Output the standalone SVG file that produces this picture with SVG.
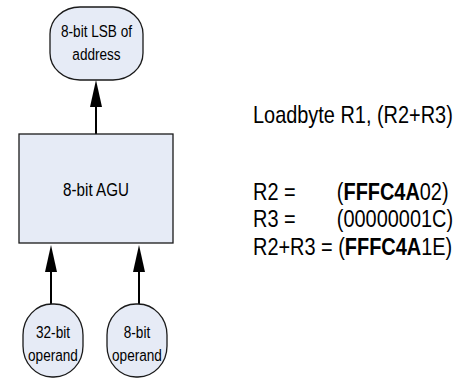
<svg xmlns="http://www.w3.org/2000/svg" width="461" height="379" viewBox="0 0 461 379">
<style>
.t{font-family:"Liberation Sans",Arial,sans-serif;fill:#000}
.n{font-size:17px;text-anchor:middle}
.r{font-size:24px}
.shape{fill:#E6EBF6;stroke:#1a1a1a;stroke-width:1.3}
.edge{stroke:#000;stroke-width:2;fill:none}
</style>
<defs>
<marker id="ah" markerUnits="userSpaceOnUse" markerWidth="27" markerHeight="12" refX="17" refY="6" orient="auto" viewBox="0 0 27 12">
<path d="M0,0 L27,6 L0,12 Z" fill="#000"/>
</marker>
</defs>
<rect width="461" height="379" fill="#fff"/>
<g id="connectors">
<line class="edge" x1="96" y1="134" x2="96" y2="90" marker-end="url(#ah)"/>
<line class="edge" x1="51" y1="304" x2="51" y2="255" marker-end="url(#ah)"/>
<line class="edge" x1="139" y1="304" x2="139" y2="255" marker-end="url(#ah)"/>
</g>
<g id="lsb">
<rect class="shape" x="50" y="7" width="93" height="73" rx="30" ry="27"/>
<text class="t n" transform="translate(96.5,37) scale(0.8,1)">8-bit LSB of</text>
<text class="t n" transform="translate(96.5,60) scale(0.8,1)">address</text>
</g>
<g id="agu">
<rect class="shape" x="19" y="134" width="154" height="109"/>
<text class="t n" style="font-size:19px" transform="translate(96,196) scale(0.8,1)">8-bit AGU</text>
</g>
<g id="op32">
<rect class="shape" x="23" y="304" width="60" height="73" rx="29" ry="31"/>
<text class="t n" transform="translate(53,338) scale(0.8,1)">32-bit</text>
<text class="t n" transform="translate(53,361) scale(0.8,1)">operand</text>
</g>
<g id="op8">
<rect class="shape" x="107" y="304" width="60" height="73" rx="29" ry="31"/>
<text class="t n" transform="translate(137,338) scale(0.8,1)">8-bit</text>
<text class="t n" transform="translate(137,361) scale(0.8,1)">operand</text>
</g>
<g id="code" transform="translate(253,0) scale(0.83,1)">
<text class="t r" x="0" y="123">Loadbyte R1, (R2+R3)</text>
<text class="t r" y="200"><tspan x="0">R2 =</tspan><tspan x="101">(</tspan><tspan font-weight="bold">FFFC4A</tspan><tspan>02)</tspan></text>
<text class="t r" y="227"><tspan x="0">R3 =</tspan><tspan x="101">(00000001C)</tspan></text>
<text class="t r" y="255"><tspan x="0">R2+R3 = (</tspan><tspan font-weight="bold">FFFC4A</tspan><tspan>1E)</tspan></text>
</g>
</svg>
